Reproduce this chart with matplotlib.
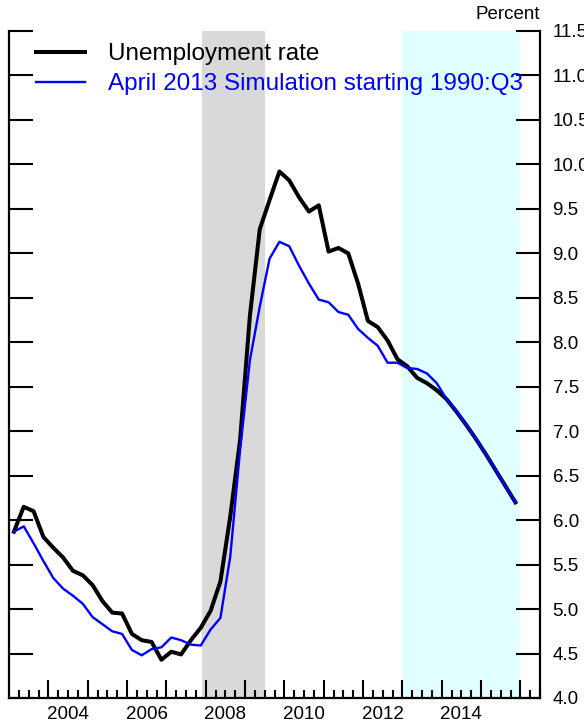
import numpy as np
import matplotlib
matplotlib.use("Agg")
import matplotlib.pyplot as plt
from matplotlib.ticker import FixedLocator, FuncFormatter

plt.rcParams['font.family'] = ['Liberation Sans', 'DejaVu Sans']

# quarterly data, 2003:Q1 - 2015:Q4, plotted at mid-quarter
start_year = 2003
n_quarters = 52
unemployment = [5.87, 6.15, 6.10, 5.81, 5.69, 5.58, 5.43, 5.38,
                5.27, 5.09, 4.96, 4.95, 4.72, 4.65, 4.63, 4.43,
                4.52, 4.49, 4.65, 4.79, 4.98, 5.31, 6.04, 6.90,
                8.30, 9.27, 9.60, 9.92, 9.82, 9.63, 9.47, 9.54,
                9.02, 9.06, 9.00, 8.66, 8.24, 8.17, 8.02, 7.81,
                7.73, 7.60, 7.54, 7.46, 7.36, 7.22, 7.07, 6.91,
                6.74, 6.56, 6.38, 6.20]
simulation = [5.87, 5.93, 5.74, 5.54, 5.35, 5.23, 5.15, 5.06,
              4.91, 4.83, 4.75, 4.72, 4.54, 4.48, 4.55, 4.57,
              4.68, 4.65, 4.60, 4.59, 4.77, 4.90, 5.59, 6.79,
              7.80, 8.40, 8.94, 9.13, 9.08, 8.86, 8.66, 8.48,
              8.45, 8.34, 8.31, 8.15, 8.05, 7.96, 7.77, 7.77,
              7.71, 7.70, 7.65, 7.54, 7.36, 7.23, 7.07, 6.91,
              6.74, 6.56, 6.38, 6.20]
labels = ['Unemployment rate', 'April 2013 Simulation starting 1990:Q3']
recession = (2007.9, 2009.52)
forecast = (2013.0, 2016.0)
year_labels = [2004, 2006, 2008, 2010, 2012, 2014]
y_ticks = [4.0, 4.5, 5.0, 5.5, 6.0, 6.5, 7.0, 7.5, 8.0, 8.5, 9.0, 9.5,
           10.0, 10.5, 11.0, 11.5]

t = start_year + (np.arange(n_quarters) + 0.5) / 4

fig = plt.figure(figsize=(5.84, 7.25), dpi=100)
ax = fig.add_axes([9 / 584, 1 - 698 / 725, 531 / 584, 667 / 725])

ax.axvspan(*recession, color='#d9d9d9', lw=0, zorder=0)
ax.axvspan(*forecast, color='#e0ffff', lw=0, zorder=0)

ax.plot(t, unemployment, color='black', lw=2.9, label=labels[0], zorder=3)
ax.plot(t, simulation, color='blue', lw=1.7, label=labels[1], zorder=4)

ax.set_xlim(2003.0, 2016.5)
ax.set_ylim(4.0, 11.5)

# x axis: tall ticks at year starts, short ticks each quarter,
# labels centred in the labelled years
years = np.arange(2004, 2017)
quarters = [y + q / 4 for y in range(2003, 2017) for q in (1, 2, 3)]
ax.xaxis.set_major_locator(FixedLocator(years))
ax.xaxis.set_minor_locator(FixedLocator(quarters))
ax.xaxis.set_major_formatter(FuncFormatter(lambda v, p: ''))
ax.xaxis.set_minor_formatter(FuncFormatter(
    lambda v, p: str(int(v)) if abs(v - int(v) - 0.5) < 1e-6 and int(v) in year_labels else ''))
ax.tick_params(axis='x', which='major', direction='in', length=13, width=1.5, bottom=True, top=False)
ax.tick_params(axis='x', which='minor', direction='in', length=6, width=1.5, pad=6,
               labelsize=13.5, bottom=True, top=False)

ax.set_yticks(y_ticks)
ax.yaxis.set_major_formatter(FuncFormatter(lambda v, p: f'{v:.1f}'))
ax.tick_params(axis='y', direction='in', length=17, width=1.5, left=True, right=True,
               labelleft=False, labelright=True, labelsize=13.5, pad=9)

ax.spines['top'].set_visible(False)
for s in ('left', 'right', 'bottom'):
    ax.spines[s].set_linewidth(1.6)

ax.text(1.0, 1.012, 'Percent', transform=ax.transAxes, ha='right', va='bottom', fontsize=13.5)

ax.legend(loc='upper left', bbox_to_anchor=(0.051, 0.982), frameon=False, fontsize=17.5,
          handlelength=2.0, handletextpad=0.95, labelspacing=0.34, borderpad=0,
          borderaxespad=0, labelcolor='linecolor')

fig.savefig('out.png', dpi=100)
